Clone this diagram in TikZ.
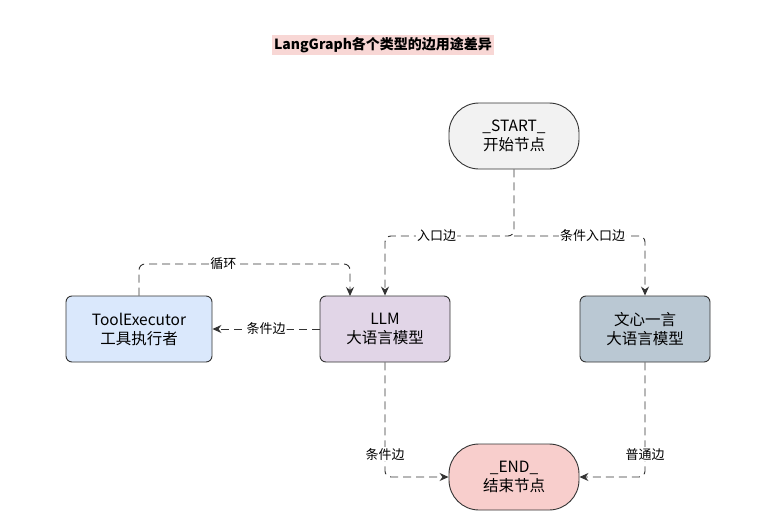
\documentclass[tikz,border=0pt]{standalone}
\usepackage{fontspec}
\setmainfont{Noto Sans CJK SC}
\usetikzlibrary{arrows.meta}
\definecolor{ttl}{HTML}{F8D7D5}
\begin{document}
\begin{tikzpicture}[x=1pt,y=-1pt,
  box/.style={draw=black!80,rounded corners=6pt,minimum width=130pt,minimum height=66pt,align=center,font=\fontsize{15.5}{19}\selectfont,line width=0.9pt},
  term/.style={box,rounded corners=30pt},
  edge/.style={draw=black!80,dashed,dash pattern=on 8pt off 5pt,line width=0.9pt,-{Stealth[length=9pt,width=8pt]},rounded corners=6pt},
  lab/.style={fill=white,font=\fontsize{13}{15}\selectfont,inner sep=1pt}]
\useasboundingbox (0,0) rectangle (765,527);
\fill[white] (0,0) rectangle (765,527);
\node[fill=ttl,inner sep=2pt,font=\bfseries\fontsize{14}{16}\selectfont] (title) at (383,45) {LangGraph各个类型的边用途差异};
\node[term,fill=black!5] (start) at (514,136) {\_START\_\\开始节点};
\node[box,fill={rgb,255:red,218;green,232;blue,252},minimum width=146pt] (tool) at (139,329) {ToolExecutor\\工具执行者};
\node[box,fill={rgb,255:red,225;green,213;blue,231}] (llm) at (385,329) {LLM\\大语言模型};
\node[box,fill={rgb,255:red,186;green,200;blue,211}] (wx) at (645,329) {文心一言\\大语言模型};
\node[term,fill={rgb,255:red,248;green,206;blue,204}] (end) at (514,477) {\_END\_\\结束节点};
\coordinate (sp) at (514,236);
\draw[edge] (start.south) -- (sp) -| node[lab,pos=0.3]{入口边} (llm.north);
\draw[edge] (sp) -| node[lab,pos=0.3]{条件入口边} (wx.north);
\draw[edge] (tool.north) |- (350,264) node[lab,pos=0.7]{循环} -- (350,296);
\draw[edge] (llm.west) -- node[lab]{条件边} (tool.east);
\draw[edge] (llm.south) |- node[lab,pos=0.4]{条件边} (end.west);
\draw[edge] (wx.south) |- node[lab,pos=0.4]{普通边} (end.east);
\end{tikzpicture}
\end{document}
